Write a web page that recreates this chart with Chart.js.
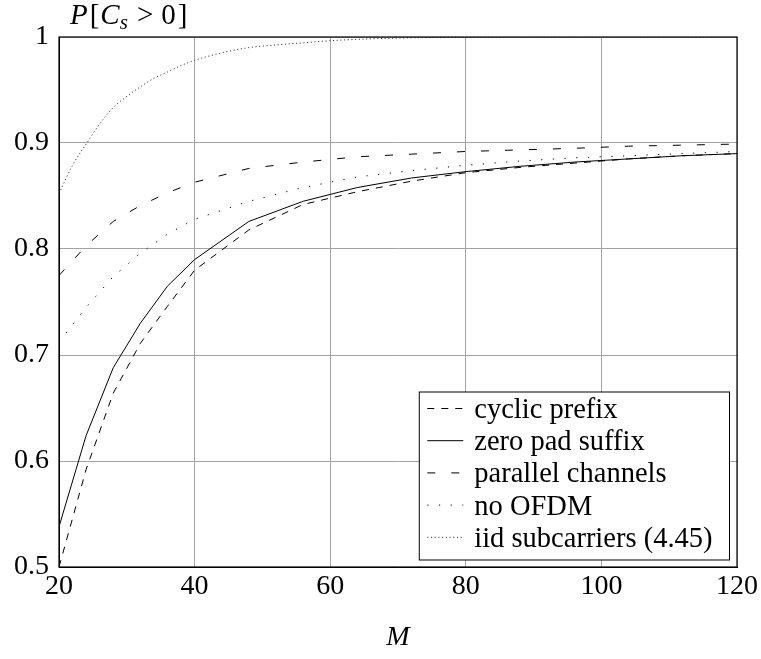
<!DOCTYPE html>
<html>
<head>
<meta charset="utf-8">
<title>P[Cs > 0] versus M</title>
<script src="https://cdn.jsdelivr.net/npm/chart.js@4.4.1/dist/chart.umd.min.js"></script>
<style>
  html, body { margin: 0; padding: 0; background: #fff; }
  #wrap { width: 761px; height: 659px; }
</style>
</head>
<body>
<div id="wrap"><canvas id="probChart" width="761" height="659"></canvas></div>
<script>
// simulated curves share the same M grid
const mValues = [20, 24, 28, 32, 36, 40, 48, 56, 64, 72, 80, 88, 96, 104, 112, 120];
const cyclicPrefix = [0.500, 0.592, 0.664, 0.711, 0.746, 0.780, 0.818, 0.842, 0.854, 0.864, 0.872, 0.877, 0.881, 0.885, 0.888, 0.890];
const zeroPadSuffix = [0.538, 0.624, 0.688, 0.730, 0.765, 0.790, 0.826, 0.845, 0.858, 0.867, 0.873, 0.878, 0.882, 0.885, 0.888, 0.890];
const parallelChannels = [0.775, 0.803, 0.826, 0.841, 0.853, 0.863, 0.876, 0.882, 0.887, 0.8895, 0.892, 0.8935, 0.895, 0.897, 0.898, 0.899];
const noOfdm = [0.712, 0.745, 0.774, 0.796, 0.814, 0.828, 0.845, 0.858, 0.868, 0.874, 0.879, 0.883, 0.886, 0.888, 0.890, 0.892];

// closed-form curve (4.45), finer grid
const iidM = [20, 22, 24, 26, 28, 30, 32, 34, 36, 38, 40, 44, 48, 52, 56, 60, 64, 70, 80, 90, 100, 110, 120];
const iidSubcarriers = [0.8525, 0.879, 0.899, 0.918, 0.9335, 0.944, 0.953, 0.961, 0.967, 0.973, 0.978, 0.985, 0.990, 0.9925, 0.9945, 0.9965, 0.9978, 0.999, 0.9997, 1, 1, 1, 1];

const seriesLabels = ['cyclic prefix', 'zero pad suffix', 'parallel channels', 'no OFDM', 'iid subcarriers (4.45)'];
const xTicks = [20, 40, 60, 80, 100, 120];
const yTicks = [0.5, 0.6, 0.7, 0.8, 0.9, 1];

const SERIF = '"Liberation Serif", "Times New Roman", serif';

function pairs(xs, ys) {
    return xs.map((x, i) => ({ x: x, y: ys[i] }));
}

function lineSet(label, xs, ys, dash, extra = {}) {
    return Object.assign({
        label: label,
        data: pairs(xs, ys),
        borderColor: '#000',
        borderWidth: 1,
        borderDash: dash,
        pointRadius: 0,
        fill: false,
        tension: 0,
    }, extra);
}

// legend box drawn inside the plot, bottom right
const boxLegend = {
    id: 'boxLegend',
    afterDatasetsDraw(chart) {
        const { ctx, chartArea } = chart;
        const sets = chart.data.datasets;
        const rowH = 32.2;
        ctx.save();
        ctx.font = '28.5px ' + SERIF;
        const textW = Math.max(...sets.map(d => ctx.measureText(d.label).width));
        const w = 55 + textW + 17;
        const h = rowH * sets.length + 7;
        const x0 = chartArea.right - 7.5 - w;
        const y0 = chartArea.bottom - 7 - h;

        ctx.fillStyle = '#fff';
        ctx.fillRect(x0, y0, w, h);
        ctx.strokeStyle = '#000';
        ctx.lineWidth = 1;
        ctx.setLineDash([]);
        ctx.strokeRect(x0, y0, w, h);

        sets.forEach((d, i) => {
            const base = y0 + 26 + rowH * i;
            ctx.beginPath();
            ctx.setLineDash(d.borderDash || []);
            ctx.strokeStyle = d.borderColor;
            ctx.lineWidth = d.borderWidth;
            ctx.moveTo(x0 + 8, base - 9.5);
            ctx.lineTo(x0 + 44, base - 9.5);
            ctx.stroke();
            ctx.setLineDash([]);
            ctx.fillStyle = '#000';
            ctx.textBaseline = 'alphabetic';
            ctx.textAlign = 'left';
            ctx.fillText(d.label, x0 + 55, base);
        });
        ctx.restore();
    }
};

// frame round the plot and the P[C_s > 0] label above the y axis
const frameAndTitle = {
    id: 'frameAndTitle',
    afterDraw(chart) {
        const { ctx, chartArea } = chart;
        ctx.save();
        ctx.strokeStyle = '#000';
        ctx.lineWidth = 1.2;
        ctx.strokeRect(chartArea.left, chartArea.top, chartArea.right - chartArea.left, chartArea.bottom - chartArea.top);

        let x = 70;
        const base = 24;
        ctx.fillStyle = '#000';
        ctx.textBaseline = 'alphabetic';
        const part = (txt, font, dy = 0, after = 0) => {
            ctx.font = font;
            ctx.fillText(txt, x, base + dy);
            x += ctx.measureText(txt).width + after;
        };
        part('P', 'italic 29px ' + SERIF, 0, 2);
        part('[', '29px ' + SERIF, 0, 1);
        part('C', 'italic 29px ' + SERIF);
        part('s', 'italic 21px ' + SERIF, 5, 9);
        part('>', '29px ' + SERIF, 0, 8);
        part('0', '29px ' + SERIF, 0, 2);
        part(']', '29px ' + SERIF);
        ctx.restore();
    }
};

const ctx = document.getElementById('probChart');

const chart = new Chart(ctx, {
    type: 'line',
    data: {
        datasets: [
            lineSet(seriesLabels[0], mValues, cyclicPrefix, [7, 7]),
            lineSet(seriesLabels[1], mValues, zeroPadSuffix, []),
            lineSet(seriesLabels[2], mValues, parallelChannels, [8, 16]),
            lineSet(seriesLabels[3], mValues, noOfdm, [1.2, 10.5]),
            lineSet(seriesLabels[4], iidM, iidSubcarriers, [1.1, 2.6], { borderColor: '#333', cubicInterpolationMode: 'monotone' }),
        ],
    },
    options: {
        responsive: false,
        animation: false,
        layout: { padding: { top: 37, right: 22, bottom: 0, left: 0 } },
        plugins: {
            legend: { display: false },
            tooltip: { enabled: false },
        },
        scales: {
            x: {
                type: 'linear',
                min: 20,
                max: 120,
                afterBuildTicks: (scale) => { scale.ticks = xTicks.map(v => ({ value: v })); },
                afterFit: (scale) => { scale.height = 92; },
                grid: { color: '#a3a3a3', lineWidth: 1, drawTicks: false },
                border: { color: '#000', width: 1 },
                ticks: {
                    color: '#000',
                    padding: 3,
                    maxRotation: 0,
                    font: { family: SERIF, size: 28 },
                },
                title: {
                    display: true,
                    text: 'M',
                    color: '#000',
                    padding: { top: 0, bottom: 5 },
                    font: { family: SERIF, size: 28, style: 'italic' },
                },
            },
            y: {
                min: 0.5,
                max: 1,
                afterBuildTicks: (scale) => { scale.ticks = yTicks.map(v => ({ value: v })); },
                afterFit: (scale) => { scale.width = 59; },
                grid: { color: '#a3a3a3', lineWidth: 1, drawTicks: false },
                border: { color: '#000', width: 1 },
                ticks: {
                    color: '#000',
                    padding: 10,
                    font: { family: SERIF, size: 28 },
                    callback: (v) => String(+Number(v).toFixed(1)),
                },
            },
        },
    },
    plugins: [boxLegend, frameAndTitle],
});
</script>
</body>
</html>
